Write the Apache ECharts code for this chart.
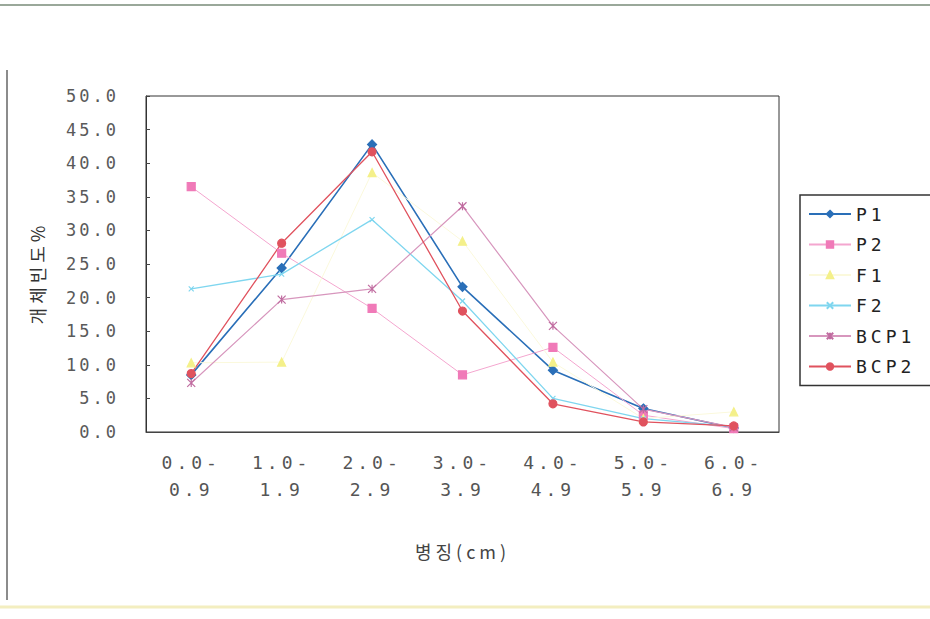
<!DOCTYPE html>
<html><head><meta charset="utf-8">
<script src="https://cdn.jsdelivr.net/npm/echarts@6/dist/echarts.min.js"></script>
<style>html,body{margin:0;padding:0;background:#fff;}#c{width:930px;height:619px;}#c text{letter-spacing:4px;}#c text[text-anchor="end"]{letter-spacing:3px;}</style>
</head><body><div id="c"></div>
<script>
var categories = ['0.0-\n0.9','1.0-\n1.9','2.0-\n2.9','3.0-\n3.9','4.0-\n4.9','5.0-\n5.9','6.0-\n6.9'];
var P1   = [8.5, 24.4, 42.8, 21.6, 9.2, 3.5, 0.6];
var P2   = [36.5, 26.6, 18.4, 8.5, 12.6, 2.5, 0.5];
var F1   = [10.3, 10.4, 38.6, 28.4, 10.4, 2.0, 3.0];
var F2   = [21.3, 23.5, 31.6, 19.5, 5.0, 2.0, 0.8];
var BCP1 = [7.3, 19.7, 21.3, 33.6, 15.8, 3.4, 0.7];
var BCP2 = [8.7, 28.1, 41.7, 18.0, 4.2, 1.5, 0.9];
var yTicks = [0, 5, 10, 15, 20, 25, 30, 35, 40, 45, 50];

var MONO = 'DejaVu Sans Mono';
var starMark = 'path://M0,0 L10,10 M10,0 L0,10 M5,0 L5,10';
var xMark = 'path://M0,0 L10,10 M10,0 L0,10';
function mk(name, data, color, symbol, size, width, lineColor) {
  return {
    name: name, type: 'line', data: data, symbol: symbol, symbolSize: size,
    lineStyle: {color: lineColor || color, width: width},
    itemStyle: {color: color, borderColor: color, borderWidth: 1.2},
    emphasis: {disabled: true}
  };
}
var chart = echarts.init(document.getElementById('c'), null, {renderer: 'svg'});
chart.setOption({
  animation: false,
  backgroundColor: '#fff',
  textStyle: {fontFamily: MONO},
  grid: {left: 146, right: 151, top: 96, bottom: 187, show: true, borderColor: '#333', borderWidth: 1},
  legend: {
    orient: 'vertical', left: 800, top: 195, itemGap: 12.5, itemWidth: 42, itemHeight: 8,
    padding: [10, 60, 10, 8],
    borderColor: '#333', borderWidth: 1.5,
    textStyle: {fontSize: 18, color: '#222', fontFamily: MONO},
    data: ['P1','P2','F1','F2','BCP1','BCP2']
  },
  xAxis: {
    type: 'category', data: categories, boundaryGap: true,
    name: '병징(cm)', nameLocation: 'middle', nameGap: 110,
    nameTextStyle: {fontSize: 18, color: '#444', fontFamily: 'Noto Sans CJK KR'},
    axisLine: {lineStyle: {color: '#444', width: 1}},
    axisTick: {inside: true, length: 5, lineStyle: {color: '#444'}},
    axisLabel: {fontSize: 18, color: '#555', lineHeight: 27, margin: 17, fontFamily: MONO}
  },
  yAxis: {
    type: 'value', min: 0, max: 50, interval: 5,
    name: '개체빈도%', nameLocation: 'middle', nameGap: 100, nameRotate: 90,
    nameTextStyle: {fontSize: 18, color: '#333', fontFamily: 'Noto Sans CJK KR', padding: [0, 18, 0, 0]},
    axisLine: {show: true, lineStyle: {color: '#333', width: 1}},
    axisTick: {show: true, inside: true, length: 4, lineStyle: {color: '#444'}},
    splitLine: {show: false},
    axisLabel: {fontSize: 17, color: '#5a5a5a', margin: 27, fontFamily: MONO,
      formatter: function (v) { return v.toFixed(1); }}
  },
  graphic: [
    {type: 'line', shape: {x1: 0, y1: 5, x2: 930, y2: 5}, style: {stroke: '#9aa89a', lineWidth: 2}},
    {type: 'line', shape: {x1: 7, y1: 70, x2: 7, y2: 600}, style: {stroke: '#666', lineWidth: 1.5}},
    {type: 'line', shape: {x1: 0, y1: 607, x2: 930, y2: 607}, style: {stroke: '#f3eec0', lineWidth: 3}}
  ],
  series: [
    mk('P1', P1, '#2a6fb8', 'diamond', 9, 1.6),
    mk('P2', P2, '#f07ab8', 'rect', 8, 1, '#f4a6cf'),
    mk('F1', F1, '#f4f08a', 'triangle', 8, 1, '#fbf9dc'),
    mk('F2', F2, '#7fd6ef', xMark, 5, 1.3),
    mk('BCP1', BCP1, '#c06ca0', starMark, 8, 1.2, '#d796bd'),
    mk('BCP2', BCP2, '#e0525e', 'circle', 8, 1.3)
  ]
});
</script></body></html>
